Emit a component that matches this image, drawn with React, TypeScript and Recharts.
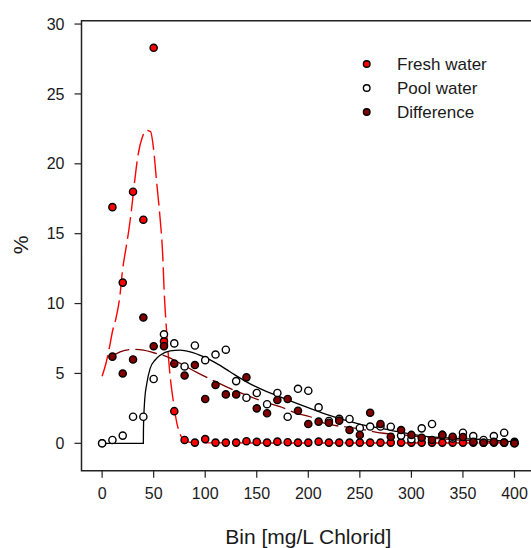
import React from 'react';
import { ComposedChart, XAxis, YAxis, Scatter, Line, ReferenceArea, Legend } from 'recharts';

// ---- data ----
const bins = [0, 10, 20, 30, 40, 50, 60, 70, 80, 90, 100, 110, 120, 130, 140, 150, 160, 170, 180, 190, 200,
  210, 220, 230, 240, 250, 260, 270, 280, 290, 300, 310, 320, 330, 340, 350, 360, 370, 380, 390, 400];

const freshWater = [0.0, 16.9, 11.5, 18.0, 16.0, 28.3, 7.3, 2.3, 0.24, 0.05, 0.3, 0.05, 0.05, 0.05, 0.15, 0.1,
  0.05, 0.12, 0.08, 0.05, 0.05, 0.12, 0.05, 0.05, 0.05, 0.05, 0.05, 0.05, 0.05, 0.05, 0.05, 0.05, 0.05, 0.05,
  0.05, 0.05, 0.05, 0.05, 0.05, 0.05, 0.1];

const poolWater = [0.0, 0.24, 0.55, 1.9, 1.9, 4.6, 7.8, 7.15, 5.5, 7.0, 5.95, 6.35, 6.7, 4.45, 3.26, 3.6, 2.8,
  3.6, 1.9, 3.9, 3.76, 2.57, 1.6, 1.75, 1.74, 1.1, 1.2, 1.2, 1.19, 0.55, 0.29, 1.07, 1.38, 0.6, 0.35, 0.76,
  0.52, 0.24, 0.52, 0.76, 0.0];

const difference = [null, 6.2, 5.0, 6.0, 9.0, 6.95, 6.95, 5.7, 4.85, 5.6, 3.17, 4.17, 3.5, 3.5, 4.72, 2.5, 2.15,
  3.1, 3.17, 2.33, 1.38, 1.55, 1.47, 1.62, 0.95, 0.6, 2.19, 1.38, 0.47, 0.95, 0.6, 0.4, 0.24, 0.6, 0.47, 0.45,
  0.1, 0.05, 0.1, 0.05, 0.0];

// fitted curves
const freshFitX = [0, 4, 8, 10, 13, 17, 20, 23, 26, 28, 31, 35, 39, 43, 47, 50, 53, 56, 59, 60, 62, 63.5, 66,
  68.5, 72.5, 76, 79, 85, 100, 400];
const freshFitY = [4.8, 5.8, 7.2, 8.0, 8.8, 10.4, 12.5, 13.9, 15.3, 16.4, 18.4, 20.7, 21.9, 22.4, 22.3, 21.0,
  18.6, 16.3, 13.1, 11.2, 8.6, 7.0, 4.8, 3.3, 1.45, 0.6, 0.24, 0.08, 0.03, 0.02];

const poolFitX = [0, 40, 40.1, 40.5, 41.3, 43.4, 46.6, 51.4, 56.3, 66, 75.7, 85.4, 98.3, 111, 124, 140, 156.5,
  172.6, 188.8, 201.7, 214.6, 247, 279, 311.6, 344, 376, 400];
const poolFitY = [0, 0, 1.0, 2.0, 3.1, 4.3, 5.36, 5.96, 6.3, 6.62, 6.67, 6.55, 6.2, 5.72, 5.12, 4.4, 3.8,
  3.33, 2.86, 2.5, 2.15, 1.43, 0.95, 0.52, 0.36, 0.24, 0.1];

const diffFitX = [7, 17.5, 30, 40, 50, 62.7, 75.7, 91.8, 108, 124, 140, 156.5, 172.6, 188.8, 201.7, 214.6, 247,
  273, 292, 311.6, 344, 376, 400];
const diffFitY = [6.1, 6.55, 6.72, 6.67, 6.48, 6.2, 5.72, 5.08, 4.48, 3.93, 3.45, 2.98, 2.62, 2.15, 1.9, 1.47,
  1.07, 0.72, 0.6, 0.43, 0.24, 0.12, 0.07];

const xTicks = [0, 50, 100, 150, 200, 250, 300, 350, 400];
const yTicks = [0, 5, 10, 15, 20, 25, 30];

const seriesNames = ['Fresh water', 'Pool water', 'Difference'];
const xTitle = 'Bin [mg/L Chlorid]';
const yTitle = '%';

// ---- styles ----
const FONT = '"Liberation Sans", Arial, Helvetica, sans-serif';
const RED = '#ff0000';
const DARKRED = '#800000';
const TXT = '#1a1a1a';

const toPoints = (xs: number[], ys: (number | null)[]) =>
  xs.map((x, i) => ({ x, y: ys[i] })).filter((p) => p.y !== null && p.y !== undefined);

const freshPts = toPoints(bins, freshWater);
const poolPts = toPoints(bins, poolWater);
const diffPts = toPoints(bins, difference);
const freshFit = toPoints(freshFitX, freshFitY);
const poolFit = toPoints(poolFitX, poolFitY);
const diffFit = toPoints(diffFitX, diffFitY);

const makeDot = (fill: string) => (props: any) => {
  const { cx, cy } = props;
  if (cx == null || cy == null) return <g />;
  return <circle cx={cx} cy={cy} r={3.6} fill={fill} stroke="#000" strokeWidth={1.4} />;
};

const legendFills = [RED, '#ffffff', DARKRED];

const LegendBox = () => (
  <svg width={170} height={76} style={{ display: 'block', overflow: 'visible' }}>
    {seriesNames.map((name, i) => (
      <g key={name}>
        <circle cx={11.7} cy={14 + i * 24} r={3.3} fill={legendFills[i]} stroke="#000" strokeWidth={1.4} />
        <text x={42} y={14 + i * 24} dominantBaseline="central" fontSize={17} fontFamily={FONT} fill={TXT}>
          {name}
        </text>
      </g>
    ))}
  </svg>
);

export default function App() {
  return (
    <div style={{ position: 'absolute', left: 0, top: 0, width: 531, height: 548, overflow: 'hidden', background: '#fff' }}>
      <ComposedChart width={560} height={548} margin={{ top: 20.7, right: 24.9, left: 0, bottom: 0 }}>
        <XAxis
          type="number"
          dataKey="x"
          domain={[-20, 420]}
          ticks={xTicks}
          height={77.3}
          axisLine={false}
          tickSize={7}
          tickMargin={10}
          tickLine={{ stroke: '#222', strokeWidth: 1.2 }}
          tick={{ fontSize: 16, fontFamily: FONT, fill: TXT }}
          interval={0}
          allowDataOverflow
          label={{
            content: () => (
              <text x={308.3} y={544} textAnchor="middle" fontSize={21} fontFamily={FONT} fill={TXT}>
                {xTitle}
              </text>
            ),
          }}
        />
        <YAxis
          type="number"
          dataKey="y"
          domain={[-1.96, 30.24]}
          ticks={yTicks}
          width={81.5}
          axisLine={false}
          tickSize={7}
          tickMargin={10}
          tickLine={{ stroke: '#222', strokeWidth: 1.2 }}
          tick={{ fontSize: 16, fontFamily: FONT, fill: TXT }}
          interval={0}
          allowDataOverflow
          label={{
            content: () => (
              <text x={28} y={245} transform="rotate(-90, 28, 245)" textAnchor="middle" fontSize={21} fontFamily={FONT} fill={TXT}>
                {yTitle}
              </text>
            ),
          }}
        />
        <ReferenceArea x1={-20} x2={420} y1={-1.96} y2={30.24} fill="none" fillOpacity={0} stroke="#222" strokeWidth={1.5} ifOverflow="visible" />
        <Line data={freshFit} dataKey="y" type="monotone" stroke={RED} strokeWidth={1.4} strokeDasharray="22 6" dot={false} isAnimationActive={false} legendType="none" />
        <Line data={diffFit} dataKey="y" type="monotone" stroke={DARKRED} strokeWidth={1.3} strokeDasharray="22 6" dot={false} isAnimationActive={false} legendType="none" />
        <Line data={poolFit} dataKey="y" type="monotone" stroke="#000" strokeWidth={1.3} dot={false} isAnimationActive={false} legendType="none" />
        <Scatter name={seriesNames[0]} data={freshPts} dataKey="y" fill={RED} shape={makeDot(RED)} isAnimationActive={false} />
        <Scatter name={seriesNames[1]} data={poolPts} dataKey="y" fill="#fff" shape={makeDot('#ffffff')} isAnimationActive={false} />
        <Scatter name={seriesNames[2]} data={diffPts} dataKey="y" fill={DARKRED} shape={makeDot(DARKRED)} isAnimationActive={false} />
        <Legend
          layout="vertical"
          align="center"
          verticalAlign="middle"
          wrapperStyle={{ left: 355, top: 50, width: 170, height: 76, position: 'absolute' }}
          content={() => <LegendBox />}
        />
      </ComposedChart>
    </div>
  );
}
